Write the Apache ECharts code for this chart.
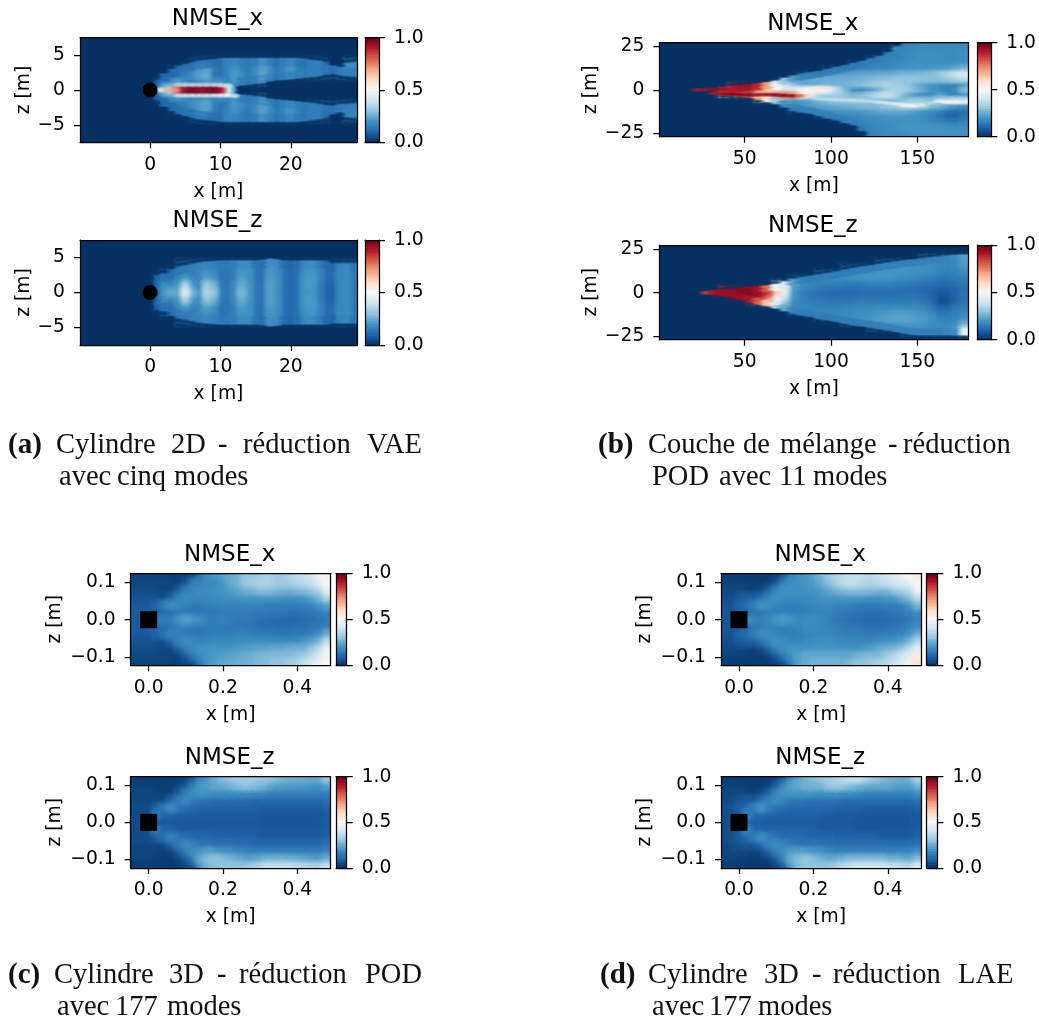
<!DOCTYPE html>
<html><head><meta charset="utf-8">
<style>html,body{margin:0;padding:0;background:#fff}#c{width:1039px;height:1018px}</style>
<script src="https://cdn.jsdelivr.net/npm/echarts@6/dist/echarts.min.js"></script>
</head><body><div id="c"></div>
<script>
// ---- shared scale ----
const cmapStops = ['#053061','#2166ac','#4393c3','#92c5de','#d1e5f0','#f7f7f7','#fddbc7','#f4a582','#d6604d','#b2182b','#67001f'];
const cbLevels = [0,.02,.04,.06,.08,.1,.12,.14,.16,.18,.2,.22,.24,.26,.28,.3,.32,.34,.36,.38,.4,.42,.44,.46,.48,.5,.52,.54,.56,.58,.6,.62,.64,.66,.68,.7,.72,.74,.76,.78,.8,.82,.84,.86,.88,.9,.92,.94,.96,.98,1];
const cbTicks = [0,0.5,1];

// ---- panel (a) : values in percent of NMSE ----
const aX = [0,1,2,3,4,5,6,7,8,9,10,11,12,13,14,15,16,17,18,19,20,21,22,23,24,25,26,27,28,29];
const aZ = [4,3,2,1,0,-1,-2,-3,-4];
const aTop = [
[0,0,0,0,0,0,10,14,13,12,12,16,17,15,14,15,19,16,13,15,17,14,13,15,15,12,0,0,18,18],
[0,0,0,8,12,13,15,19,22,14,12,16,19,15,13,17,22,17,13,16,20,15,13,16,16,14,13,14,17,17],
[0,0,9,13,12,15,17,22,24,14,12,15,21,17,14,17,23,18,13,16,20,15,14,16,15,13,12,14,15,15],
[0,8,15,18,22,18,13,15,17,18,20,15,19,15,12,16,21,0,0,0,0,0,0,0,0,0,0,0,0,0],
[0,10,30,35,80,93,97,93,95,98,90,45,15,0,0,0,0,0,0,0,0,0,0,0,0,0,0,0,0,0],
[0,8,14,18,20,17,14,14,16,16,18,17,18,15,12,15,20,0,0,0,0,0,0,0,0,0,0,0,0,0],
[0,0,9,12,12,15,18,21,23,15,12,14,20,17,14,17,22,17,13,16,19,16,14,15,15,13,12,14,15,15],
[0,0,0,8,12,14,15,20,22,14,12,15,19,15,13,17,22,17,13,16,20,15,13,16,16,14,13,14,17,17],
[0,0,0,0,0,0,10,14,13,12,12,16,17,15,14,15,19,16,13,15,17,14,13,15,15,12,0,0,16,16]];
const aTopStreak = [[1.5,0,.55],[2.5,0,.68],[3.5,0,.72],
[4,.75,.36],[5,.75,.38],[6,.75,.38],[7,.75,.38],[8,.75,.38],[9,.75,.38],[10,.7,.4],[11,.6,.4],
[4,-.8,.38],[5,-.8,.42],[6,-.8,.42],[7,-.8,.42],[8,-.8,.42],[9,-.8,.44],[10,-.8,.5],[11,-.75,.5],[12,-.85,.42]];
// envelope of the data region: [x, z on the edge, value just inside]
// "rise": empty above the edge; "fall": empty below the edge
const aTopRise = [[2,2.4,.1],[3,3,.1],[4,3.5,.12],[5,3.8,.13],[6,4,.12],[7,4.2,.14],[8,4.3,.13],[9,4.4,.12],[10,4.6,.12],[11,4.6,.16],[12,4.6,.17],[13,4.6,.15],[14,4.6,.14],[15,4.6,.15],[16,4.6,.19],[17,4.6,.16],[18,4.6,.13],[19,4.6,.15],[20,4.6,.17],[21,4.6,.14],[22,4.5,.13],[23,4.3,.15],[24,4.2,.15],[25,4,.12],[26,3.5,.13],[27,3.2,.14],[28,3.9,.18],[29,4,.18],
[13,-.6,.15],[14,-.75,.14],[15,-.9,.15],[16,-1,.19],[17,-1.15,.16],[18,-1.3,.13],[19,-1.4,.15],[20,-1.5,.16],[21,-1.65,.15],[22,-1.75,.14],[23,-1.85,.15],[24,-2,.15],[25,-2.2,.13],[26,-2.3,.12],[27,-2.1,.14],[28,-2,.15],[29,-1.9,.15]];
const aTopFall = [[13,.6,.15],[14,.75,.14],[15,.9,.15],[16,1,.19],[17,1.15,.16],[18,1.3,.13],[19,1.4,.15],[20,1.5,.16],[21,1.65,.15],[22,1.75,.14],[23,1.85,.15],[24,2,.15],[25,2.2,.13],[26,2.3,.12],[27,2.1,.14],[28,2,.15],[29,1.9,.15],
[2,-2.4,.1],[3,-3,.1],[4,-3.5,.12],[5,-3.8,.13],[6,-4,.12],[7,-4.2,.14],[8,-4.3,.13],[9,-4.4,.12],[10,-4.6,.12],[11,-4.6,.16],[12,-4.6,.17],[13,-4.6,.15],[14,-4.6,.14],[15,-4.6,.15],[16,-4.6,.19],[17,-4.6,.16],[18,-4.6,.13],[19,-4.6,.15],[20,-4.6,.17],[21,-4.6,.14],[22,-4.5,.13],[23,-4.3,.15],[24,-4.2,.15],[25,-4,.12],[26,-3.5,.13],[27,-3.2,.14],[28,-3.9,.16],[29,-4,.16]];
const aBottom = [
[0,0,0,0,13,14,15,16,17,16,14,14,15,18,18,13,12,19,18,12,10,12,17,18,15,11,10,16,17,13],
[0,0,9,12,16,15,14,17,19,17,13,13,15,20,19,13,12,20,18,12,10,12,18,20,16,11,11,17,18,13],
[0,9,13,10,17,20,16,17,22,19,13,12,15,21,19,13,12,21,19,12,10,12,19,21,16,11,10,17,18,13],
[0,9,18,16,20,33,20,17,30,26,14,13,17,24,20,13,13,22,19,12,10,12,20,21,15,10,9,17,18,13],
[0,10,20,24,24,42,26,18,34,30,15,13,18,27,21,13,13,22,18,12,10,12,19,20,15,10,8,17,18,13],
[0,9,18,16,20,32,20,17,29,25,14,13,17,24,20,13,13,22,19,12,10,12,20,21,15,10,9,17,18,13],
[0,9,13,10,17,20,16,17,22,19,13,12,15,21,19,13,12,21,19,12,10,12,19,21,16,11,10,17,18,13],
[0,0,9,12,16,15,14,17,19,17,13,13,15,20,19,13,12,20,18,12,10,12,18,20,16,11,11,17,18,13],
[0,0,0,0,13,14,15,16,17,16,14,14,15,18,18,13,12,19,18,12,10,12,17,18,15,11,10,16,17,13]];
const aBottomRise = [[2,2.7,.12],[3,3.3,.12],[4,3.7,.13],[5,3.9,.14],[6,4.1,.15],[7,4.3,.16],[8,4.4,.17],[9,4.5,.16],[10,4.6,.14],[11,4.6,.14],[12,4.6,.15],[13,4.6,.18],[14,4.6,.18],[15,4.6,.13],[16,4.7,.12],[17,4.9,.19],[18,4.8,.18],[19,4.6,.12],[20,4.6,.1],[21,4.6,.12],[22,4.6,.17],[23,4.6,.18],[24,4.6,.15],[25,4.6,.11],[26,4.2,.1],[27,4.2,.16],[28,4.2,.17],[29,4.2,.13]];
const aBottomFall = [[2,-2.7,.12],[3,-3.3,.12],[4,-3.7,.13],[5,-3.9,.14],[6,-4.1,.15],[7,-4.3,.16],[8,-4.4,.17],[9,-4.5,.16],[10,-4.6,.14],[11,-4.6,.14],[12,-4.6,.15],[13,-4.6,.18],[14,-4.6,.18],[15,-4.6,.13],[16,-4.7,.12],[17,-4.9,.19],[18,-4.8,.18],[19,-4.6,.12],[20,-4.6,.1],[21,-4.6,.12],[22,-4.6,.17],[23,-4.6,.18],[24,-4.6,.15],[25,-4.6,.11],[26,-4.4,.1],[27,-4.4,.16],[28,-4.4,.17],[29,-4.4,.13]];

// ---- panel (b) ----
const bX = [22.5,27.5,32.5,37.5,42.5,47.5,52.5,57.5,62.5,67.5,72.5,77.5,82.5,87.5,92.5,97.5,102.5,107.5,112.5,117.5,122.5,127.5,132.5,137.5,142.5,147.5,152.5,157.5,162.5,167.5,172.5,177.5];
const bZ = [27,24,21,18,15,12,9,6,3,0,-3,-6,-9,-12,-15,-18,-21,-24,-27];
const bTop = [
[0,0,0,0,0,0,0,0,0,0,0,0,0,0,0,0,0,0,0,0,0,0,0,0,16,16,17,17,17,17,17,17],
[0,0,0,0,0,0,0,0,0,0,0,0,0,0,0,0,0,0,0,0,0,0,0,15,16,17,18,18,18,18,18,18],
[0,0,0,0,0,0,0,0,0,0,0,0,0,0,0,0,0,0,0,0,0,0,13,15,17,18,19,19,18,18,18,19],
[0,0,0,0,0,0,0,0,0,0,0,0,0,0,0,0,0,0,0,0,13,14,15,16,17,18,19,19,19,18,18,19],
[0,0,0,0,0,0,0,0,0,0,0,0,0,0,0,0,0,0,13,14,15,16,16,17,18,19,19,19,19,18,19,20],
[0,0,0,0,0,0,0,0,0,0,0,0,0,0,0,12,13,14,15,15,16,17,17,18,19,20,20,20,21,22,24,26],
[0,0,0,0,0,0,0,0,0,0,0,0,13,15,17,19,20,21,22,23,23,24,24,25,26,26,27,28,30,34,38,42],
[0,0,0,0,0,0,0,0,0,0,22,20,22,24,25,25,25,25,25,26,27,28,29,30,30,30,29,29,28,30,32,35],
[0,0,0,0,85,92,92,88,72,50,38,28,24,23,24,26,26,26,27,28,30,32,34,32,30,26,22,20,18,16,17,19],
[0,0,0,88,88,85,80,72,60,50,42,42,45,50,52,46,36,26,15,13,16,22,30,34,32,28,24,20,16,15,18,28],
[0,0,0,60,65,68,70,70,72,75,75,72,55,42,34,30,32,30,26,28,32,36,38,34,24,18,15,16,22,18,16,18],
[0,0,0,0,0,0,0,60,55,38,26,20,20,22,26,28,30,30,30,30,28,27,26,26,28,30,30,28,32,36,38,38],
[0,0,0,0,0,0,0,0,0,0,18,20,20,21,22,23,24,25,26,27,28,28,30,32,36,36,34,28,26,22,20,19],
[0,0,0,0,0,0,0,0,0,0,0,14,15,17,18,18,19,20,20,21,22,23,24,24,24,22,20,18,15,12,10,12],
[0,0,0,0,0,0,0,0,0,0,0,0,0,0,14,15,16,17,17,18,19,19,20,20,20,20,18,16,12,9,9,13],
[0,0,0,0,0,0,0,0,0,0,0,0,0,0,0,0,0,14,15,16,17,18,19,19,19,19,19,17,15,13,12,15],
[0,0,0,0,0,0,0,0,0,0,0,0,0,0,0,0,0,0,0,14,16,18,18,19,20,20,20,20,19,18,17,18],
[0,0,0,0,0,0,0,0,0,0,0,0,0,0,0,0,0,0,0,0,15,17,18,18,19,20,20,20,20,20,20,20],
[0,0,0,0,0,0,0,0,0,0,0,0,0,0,0,0,0,0,0,0,14,17,18,18,18,18,18,18,18,18,18,18]];
const bTopStreak = [[22.5,0,.9],[27.5,.2,.92],[32.5,.2,.93],[37.5,.3,.93],[32.5,-2,.9],[37.5,-2.3,.95],[42.5,-2.6,.97],[47.5,-2.8,.97],[52.5,-2.8,.97],[57.5,-2.8,.95],[62.5,-2.8,.95],[67.5,-2.9,.97],[72.5,-3.2,.98],[77.5,-3.4,.98],[82.5,-3.4,.8],[87.5,-3.5,.6],
[92.5,1,.55],[97.5,1,.58],[92.5,-5,.36],[97.5,-5.3,.37],[102.5,-5.6,.38],[107.5,-5.8,.38],[112.5,-6,.38],[117.5,-6.2,.38],[122.5,-6.5,.38],[127.5,-7,.4],[132.5,-7.5,.42],[137.5,-8,.45],[142.5,-8.8,.5],[147.5,-9,.5],[152.5,-8.5,.44],[157.5,-7.5,.36],[162.5,-6.5,.45],[167.5,-7,.5],[172.5,-7,.5],[177.5,-7,.47]];
const bTopRise = [[42.5,2.2,.9],[47.5,2.7,.94],[52.5,3.2,.94],[57.5,3.8,.88],[62.5,4.5,.7],[67.5,5.6,.45],[72.5,7,.3],[77.5,8.5,.22],[82.5,9.4,.15],[87.5,10.2,.14],[92.5,11,.14],[97.5,12,.14],[102.5,13.2,.14],[107.5,14.4,.14],[112.5,15.5,.14],[117.5,16.7,.14],[122.5,18,.15],[127.5,19.5,.15],[132.5,21.5,.16],[137.5,25,.17]];
const bTopFall = [[37.5,-2.7,.88],[42.5,-3.2,.9],[47.5,-3.8,.9],[52.5,-4.6,.86],[57.5,-5.6,.7],[62.5,-7,.55],[67.5,-8.4,.3],[72.5,-10,.18],[77.5,-12,.15],[82.5,-13,.15],[87.5,-14,.15],[92.5,-15,.15],[97.5,-16.5,.15],[102.5,-17.7,.15],[107.5,-19,.15],[112.5,-20.5,.15],[117.5,-24,.15]];
const bBottom = [
[0,0,0,0,0,0,0,0,0,0,0,0,0,0,0,0,0,0,0,0,0,0,0,0,0,0,0,0,0,0,0,0],
[0,0,0,0,0,0,0,0,0,0,0,0,0,0,0,0,0,0,0,0,0,0,0,0,0,0,0,0,0,0,0,0],
[0,0,0,0,0,0,0,0,0,0,0,0,0,0,0,0,0,0,0,0,0,0,0,0,0,0,14,15,15,16,18,22],
[0,0,0,0,0,0,0,0,0,0,0,0,0,0,0,0,0,0,0,0,0,14,15,16,17,18,18,18,17,16,16,22],
[0,0,0,0,0,0,0,0,0,0,0,0,0,0,0,0,0,13,14,15,16,17,18,19,19,19,19,18,17,16,17,20],
[0,0,0,0,0,0,0,0,0,0,0,0,0,0,13,14,15,16,17,18,19,20,20,20,20,19,19,18,16,15,16,18],
[0,0,0,0,0,0,0,0,0,0,0,13,15,16,17,17,18,18,19,20,20,20,20,19,18,17,16,15,14,14,15,15],
[0,0,0,0,0,0,0,0,0,35,42,22,18,17,16,16,16,15,15,15,16,16,16,15,15,14,13,12,11,11,12,14],
[0,0,0,85,93,95,95,92,80,55,42,22,17,15,14,13,13,12,12,12,13,13,13,13,12,12,11,10,9,9,10,12],
[0,0,92,96,97,97,96,94,86,62,45,20,15,13,12,11,10,10,10,11,11,11,11,11,11,11,11,9,8,8,10,12],
[0,0,0,0,93,95,95,90,74,52,38,20,16,14,13,12,12,12,12,12,13,13,13,13,13,13,12,10,6,6,9,13],
[0,0,0,0,0,0,85,70,60,42,28,18,16,15,15,14,14,14,14,15,15,15,15,15,15,15,14,11,6,6,10,13],
[0,0,0,0,0,0,0,0,0,0,17,17,17,16,16,16,16,16,17,17,17,18,18,18,18,18,17,14,10,10,13,15],
[0,0,0,0,0,0,0,0,0,0,0,14,15,16,17,17,17,18,18,19,19,20,21,22,22,21,20,17,13,13,15,17],
[0,0,0,0,0,0,0,0,0,0,0,0,0,0,14,15,16,17,18,19,20,21,22,23,23,22,21,19,16,15,16,19],
[0,0,0,0,0,0,0,0,0,0,0,0,0,0,0,0,0,14,15,16,17,18,19,20,20,20,20,19,18,17,18,25],
[0,0,0,0,0,0,0,0,0,0,0,0,0,0,0,0,0,0,0,0,14,15,16,17,18,18,18,18,17,18,20,38],
[0,0,0,0,0,0,0,0,0,0,0,0,0,0,0,0,0,0,0,0,0,0,0,0,14,15,15,15,15,16,18,48],
[0,0,0,0,0,0,0,0,0,0,0,0,0,0,0,0,0,0,0,0,0,0,0,0,0,0,0,0,0,0,0,0]];
const bBottomStreak = [[27.5,0,.85],[32.5,0,.92]];
const bBottomRise = [[37.5,1.5,.95],[42.5,2.2,.95],[47.5,2.8,.95],[52.5,3.3,.95],[57.5,3.8,.92],[62.5,4.3,.78],[67.5,5,.5],[72.5,6.5,.42],[77.5,8,.22],[82.5,8.9,.16],[87.5,9.7,.14],[92.5,10.5,.14],[97.5,11.3,.14],[102.5,12.2,.14],[107.5,13.2,.14],[112.5,14.2,.14],[117.5,15,.14],[122.5,15.7,.14],[127.5,16.5,.14],[132.5,17.3,.15],[137.5,18,.15],[142.5,18.7,.15],[147.5,19.2,.15],[152.5,19.8,.15],[157.5,20.4,.15],[162.5,21,.15],[167.5,21.5,.16],[172.5,21.8,.18],[177.5,22,.22]];
const bBottomFall = [[37.5,-2,.93],[42.5,-3,.93],[47.5,-4.3,.93],[52.5,-5.6,.9],[57.5,-6.8,.8],[62.5,-8,.65],[67.5,-9.3,.42],[72.5,-10.8,.25],[77.5,-12.2,.16],[82.5,-13.2,.15],[87.5,-14.2,.14],[92.5,-15.2,.14],[97.5,-16,.14],[102.5,-17,.14],[107.5,-17.8,.14],[112.5,-18.8,.14],[117.5,-19.5,.14],[122.5,-20.2,.14],[127.5,-21,.15],[132.5,-21.8,.15],[137.5,-22.8,.15],[142.5,-23.6,.15],[147.5,-24.3,.15],[152.5,-24.5,.15],[157.5,-24.5,.15],[162.5,-24.5,.15],[167.5,-24.5,.16],[172.5,-24.5,.18],[177.5,-24.5,.46]];

// ---- panels (c) and (d) ----
const cdX = [-.04,-.02,0,.02,.04,.06,.08,.1,.12,.14,.16,.18,.2,.22,.24,.26,.28,.3,.32,.34,.36,.38,.4,.42,.44,.46,.48];
const cdZ = [.12,.1,.08,.06,.04,.02,0,-.02,-.04,-.06,-.08,-.1,-.12];
const cTop = [
[3,3,3,3,3,3,3,3,4,12,18,20,22,24,26,30,30,32,34,32,32,34,36,38,40,46,52],
[4,4,4,4,4,3,3,6,14,16,18,18,20,24,26,30,32,34,34,32,32,32,34,36,38,42,50],
[5,5,5,4,4,4,7,14,17,18,18,19,20,21,23,25,26,28,28,27,26,26,27,28,30,34,44],
[6,6,6,5,5,8,15,18,17,17,17,18,19,19,19,20,20,20,20,20,19,19,19,20,22,26,33],
[7,7,7,9,14,18,17,15,14,14,15,15,16,16,16,16,16,16,15,15,15,15,15,15,16,19,22],
[8,8,8,8,10,12,13,13,13,13,14,14,15,15,15,15,14,14,13,13,13,12,12,13,13,15,16],
[8,8,8,14,15,14,19,22,20,18,15,15,16,15,14,14,13,12,11,11,10,10,10,11,11,13,14],
[8,8,8,9,11,13,14,15,14,14,15,15,14,14,14,13,13,12,12,11,11,11,12,12,13,14,16],
[7,7,7,9,12,16,16,14,14,14,15,15,15,15,15,15,14,14,14,13,13,13,14,14,15,18,24],
[6,6,6,5,5,8,15,18,17,16,16,17,17,17,18,18,18,18,18,18,18,17,18,20,22,26,36],
[5,5,5,4,4,4,7,13,17,19,20,20,20,20,21,22,22,23,23,24,24,25,26,26,30,36,46],
[4,4,4,4,4,3,3,6,12,17,20,21,22,23,24,25,26,27,28,28,28,28,30,32,36,42,48],
[3,3,3,3,3,3,3,3,4,12,20,22,24,24,25,26,26,28,28,30,30,32,34,38,42,46,50]];
const cBottom = [
[2,2,2,2,2,2,2,3,6,16,20,24,28,30,32,32,32,30,30,28,26,25,25,25,24,24,30],
[3,3,3,3,3,2,3,6,14,20,22,24,24,26,28,30,28,27,24,22,22,21,21,21,20,20,22],
[4,4,4,3,3,3,7,14,18,20,19,18,18,18,18,18,17,17,16,15,15,15,15,15,15,15,16],
[4,4,4,4,4,8,14,17,14,12,12,11,11,11,11,11,10,10,10,10,10,10,10,10,10,10,12],
[5,5,5,8,13,18,13,11,10,9,9,9,9,9,9,9,9,8,8,8,8,8,8,8,8,8,9],
[5,5,5,14,9,9,8,8,8,8,8,8,8,8,8,8,8,7,7,7,7,7,7,7,7,7,8],
[5,5,5,5,7,7,7,7,7,7,7,7,7,7,7,7,7,7,7,7,7,7,7,7,7,7,8],
[5,5,5,14,9,9,8,8,8,8,8,8,8,8,8,8,8,7,7,7,7,7,7,7,7,7,8],
[5,5,5,8,12,16,13,11,10,10,10,9,9,9,9,9,9,8,8,8,8,8,8,8,8,8,9],
[4,4,4,4,4,8,14,17,15,13,13,12,12,12,11,11,10,10,10,10,10,10,10,10,10,10,12],
[4,4,4,3,3,3,7,13,18,20,22,20,19,18,17,16,15,15,15,15,15,15,15,15,15,15,16],
[3,3,3,3,3,2,3,6,14,24,28,30,28,26,24,22,23,24,26,26,26,25,24,23,22,22,25],
[2,2,2,2,2,2,2,3,6,18,26,28,30,30,30,30,32,34,38,38,38,38,36,35,34,34,38]];
const dTop = [
[2,2,2,2,2,2,2,3,6,14,18,20,22,26,30,34,36,38,38,36,36,38,40,44,46,50,54],
[3,3,3,3,2,2,3,6,14,18,19,20,21,24,28,32,36,38,36,35,34,36,38,40,42,44,50],
[4,4,4,3,3,4,8,15,19,19,19,19,20,21,23,25,27,28,28,28,27,26,27,30,32,36,46],
[5,5,7,8,8,10,16,19,18,18,18,18,18,19,20,20,20,20,20,19,19,19,20,21,24,28,36],
[6,6,9,11,14,19,18,16,15,15,15,16,17,17,17,16,16,15,14,14,14,14,15,15,16,20,26],
[7,7,7,9,12,14,14,14,15,14,15,15,16,16,16,15,14,13,13,12,12,12,12,13,14,15,18],
[7,7,7,18,16,15,17,20,21,19,17,18,18,17,15,14,13,12,11,10,10,10,11,11,12,14,16],
[7,7,7,10,13,15,15,15,15,15,16,18,18,17,16,15,14,13,13,12,12,12,12,13,14,16,18],
[6,6,9,11,14,18,18,16,15,15,15,16,17,17,17,16,15,15,15,14,14,14,15,15,16,19,24],
[5,5,7,8,8,10,15,19,18,16,16,17,18,19,19,18,17,17,17,17,17,18,19,20,22,26,34],
[4,4,4,3,3,4,8,14,18,20,20,20,20,20,20,20,20,20,20,21,22,24,26,27,30,36,44],
[3,3,3,3,2,2,3,6,12,18,22,24,24,24,24,24,24,24,26,27,28,28,32,36,40,44,54],
[2,2,2,2,2,2,2,3,4,13,22,24,26,26,26,26,26,28,30,30,32,34,36,40,44,48,56]];
const dBottom = [
[2,2,2,2,2,2,2,3,6,16,22,26,28,30,32,34,36,38,38,34,30,28,26,26,24,26,34],
[3,3,3,3,2,2,3,7,15,22,24,26,26,26,30,32,30,28,26,24,24,24,24,22,22,22,26],
[4,4,4,3,3,4,8,15,20,20,20,20,19,19,19,19,18,18,17,16,16,16,16,16,16,16,18],
[4,5,6,7,7,10,15,18,15,13,13,12,12,12,12,12,11,11,11,11,11,11,11,11,11,11,12],
[5,6,8,10,15,19,14,12,11,10,10,10,10,10,10,9,9,9,9,8,8,8,8,8,8,8,9],
[5,6,6,16,10,10,9,9,9,9,9,9,9,8,8,8,8,8,7,7,7,7,7,7,7,7,8],
[5,6,6,7,8,8,8,8,8,8,8,8,8,8,8,8,8,7,7,7,7,7,7,7,7,7,8],
[5,6,6,16,10,10,9,9,9,9,9,9,9,8,8,8,8,8,7,7,7,7,7,7,7,7,8],
[5,6,8,10,14,18,14,12,11,11,11,10,10,10,10,9,9,9,9,9,9,8,8,8,8,8,9],
[4,5,6,7,7,10,15,18,16,14,13,13,13,12,12,11,11,11,11,11,11,11,11,11,11,11,12],
[4,4,4,3,3,4,8,14,18,21,22,21,20,19,17,16,16,16,16,16,16,16,16,16,16,16,18],
[3,3,3,3,2,2,3,7,15,25,28,30,28,25,24,24,26,28,28,28,28,28,26,26,24,24,28],
[2,2,2,2,2,2,2,3,6,18,28,30,30,30,30,32,36,38,40,40,40,40,38,38,36,36,42]];

// ---- tick values ----
const aXTicks=[0,10,20], aZTicks=[-5,0,5];
const bXTicks=[50,100,150], bZTicks=[-25,0,25];
const cdXTicks=[0,.2,.4], cdZTicks=[-.1,0,.1];

// ---- captions: [text, x, bold] ----
const captions = [
 {y:452,words:[['(a)',8,1],['Cylindre',56],['2D',171],['-',218],['réduction',243],['VAE',367]]},
 {y:484,words:[['avec',59],['cinq',117],['modes',174]]},
 {y:452,words:[['(b)',598,1],['Couche',648],['de',743],['mélange',780],['-',888],['réduction',903]]},
 {y:484,words:[['POD',652],['avec',719],['11',779],['modes',813]]},
 {y:982,words:[['(c)',8,1],['Cylindre',54],['3D',169],['-',217],['réduction',239],['POD',365]]},
 {y:1014,words:[['avec',57],['177',115],['modes',167]]},
 {y:982,words:[['(d)',600,1],['Cylindre',648],['3D',764],['-',812],['réduction',833],['LAE',958]]},
 {y:1014,words:[['avec',652],['177',709],['modes',758]]}
];

const TICK=18.7, TITLE=23, FF='DejaVu Sans';
const panels = [
 {t:'NMSE_x',r:[80,37.7,277,104.6],xr:[-9.96,29.4],zr:[-7.5,7.5],xs:aX,zs:aZ,rows:aTop,xT:aXTicks,zT:aZTicks,d:0,gap:46,mk:'circle',ms:15,cb:365,cbw:14,streak:aTopStreak,rise:aTopRise,fall:aTopFall,sdx:1,sdz:.45},
 {t:'NMSE_z',r:[80,240,277,105],xr:[-9.96,29.4],zr:[-7.5,7.5],xs:aX,zs:aZ,rows:aBottom,xT:aXTicks,zT:aZTicks,d:0,gap:46,mk:'circle',ms:15,cb:365,cbw:14,rise:aBottomRise,fall:aBottomFall,sdx:1,sdz:.45},
 {t:'NMSE_x',r:[659.3,42.7,309,94],xr:[.55,179.5],zr:[-26.8,27],xs:bX,zs:bZ,rows:bTop,xT:bXTicks,zT:bZTicks,d:0,gap:57,cb:977.3,cbw:15.4,streak:bTopStreak,rise:bTopRise,fall:bTopFall,sdx:5,sdz:1.5},
 {t:'NMSE_z',r:[659.3,245,309,94.7],xr:[.55,179.5],zr:[-27,27.4],xs:bX,zs:bZ,rows:bBottom,xT:bXTicks,zT:bZTicks,d:0,gap:57,cb:977.3,cbw:15.4,streak:bBottomStreak,rise:bBottomRise,fall:bBottomFall,sdx:5,sdz:1.5},
 {t:'NMSE_x',r:[130.7,573.3,200,92],xr:[-.0484,.49],zr:[-.123,.125],xs:cdX,zs:cdZ,rows:cTop,xT:cdXTicks,zT:cdZTicks,d:1,gap:66,mk:'rect',ms:17,cb:336,cbw:10.7},
 {t:'NMSE_z',r:[130.7,776.7,200,91.3],xr:[-.0484,.49],zr:[-.123,.123],xs:cdX,zs:cdZ,rows:cBottom,xT:cdXTicks,zT:cdZTicks,d:1,gap:66,mk:'rect',ms:17,cb:336,cbw:10.7},
 {t:'NMSE_x',r:[721,573.3,200.3,92],xr:[-.0484,.49],zr:[-.123,.125],xs:cdX,zs:cdZ,rows:dTop,xT:cdXTicks,zT:cdZTicks,d:1,gap:66,mk:'rect',ms:17,cb:926.7,cbw:10.7},
 {t:'NMSE_z',r:[721,776.7,200.3,91.3],xr:[-.0484,.49],zr:[-.123,.123],xs:cdX,zs:cdZ,rows:dBottom,xT:cdXTicks,zT:cdZTicks,d:1,gap:66,mk:'rect',ms:17,cb:926.7,cbw:10.7}
];

const colorOf = v => echarts.color.lerp(v, cmapStops);
const withAlpha = (c,a) => echarts.color.modifyAlpha(c,a);
const grid=[],xAxis=[],yAxis=[],series=[],title=[];
const lineStyle={color:'#000',width:1.25};
const fmt=(d)=>v=>(d?(+v).toFixed(1):String(+v)).replace('-','\u2212');
const XM=13,YM=15;

function frame(gi){
  xAxis.push({gridIndex:gi,type:'value',position:'top',min:0,max:1,z:5,axisLine:{show:true,onZero:false,lineStyle},axisTick:{show:false},axisLabel:{show:false},splitLine:{show:false}});
}
// an elliptical soft spot: the gradient is drawn in a square and stretched to the cell's aspect
function softShape(api,x,z,dx,dz,R,c){
  const ctr=api.coord([x,z]),a=api.coord([x-R*dx,z+R*dz]),b=api.coord([x+R*dx,z-R*dz]);
  const rx=(b[0]-a[0])/2,ry=(b[1]-a[1])/2;
  return {type:'rect',x:ctr[0],y:ctr[1],scaleX:rx/ry,scaleY:1,shape:{x:-ry,y:-ry,width:2*ry,height:2*ry},
    style:{fill:new echarts.graphic.RadialGradient(.5,.5,.5,[
      {offset:0,color:withAlpha(c,1)},{offset:.5,color:withAlpha(c,.6)},{offset:1,color:withAlpha(c,0)}])}};
}
// layer 0 = plain cell, layer 1 = soft cell giving the source image's smoothed look, layer 2 = soft mask of an empty cell
function cellRender(dx,dz){
  return function(params,api){
    const x=api.value(0),z=api.value(1),v=api.value(2),layer=api.value(3),c=colorOf(v);
    if(layer===0){
      const a=api.coord([x-dx/2,z+dz/2]),b=api.coord([x+dx/2,z-dz/2]);
      const X=Math.round(a[0]),Y=Math.round(a[1]);
      return {type:'rect',shape:{x:X,y:Y,width:Math.round(b[0])-X,height:Math.round(b[1])-Y},style:{fill:c}};
    }
    return layer===1?softShape(api,x,z,dx,dz,1.2,c):softShape(api,x,z,dx,dz,.8,c);
  };
}
function spotRender(dx,dz){
  return (params,api)=>softShape(api,api.value(0),api.value(1),dx,dz,1,colorOf(api.value(2)));
}
// spots on both sides of a read envelope point: the value inside, the empty colour outside
function edgeSpots(list,dir,dz){
  const inside=[],outside=[];
  list.forEach(([x,z,v])=>{
    inside.push([x,z-dir*dz*.67,v],[x,z-dir*dz*2,v]);
    outside.push([x,z+dir*dz*.67,0],[x,z+dir*dz*2,0]);
  });
  return inside.concat(outside);
}
function cbCell(dz){
  return function(params,api){
    const v=api.value(1);
    const a=api.coord([0,v+dz/2]),b=api.coord([1,v-dz/2]);
    return {type:'rect',shape:{x:a[0],y:Math.round(a[1]),width:b[0]-a[0],height:Math.round(b[1])-Math.round(a[1])},style:{fill:colorOf(v)}};
  };
}
panels.forEach(p=>{
  const [l,t,w,h]=p.r;
  const gi=grid.length;
  grid.push({left:l,top:t,width:w,height:h,show:true,backgroundColor:cmapStops[0],borderWidth:0});
  title.push({text:p.t,left:l+w/2-1,top:t-30,padding:0,textAlign:'center',textStyle:{fontFamily:FF,fontSize:TITLE,fontWeight:'normal',color:'#000'}});
  const xi=xAxis.length;
  xAxis.push({gridIndex:gi,type:'value',min:p.xr[0],max:p.xr[1],z:5,name:'x [m]',nameLocation:'middle',nameGap:40,
    nameTextStyle:{fontFamily:FF,fontSize:TICK,color:'#000'},
    axisLine:{show:true,onZero:false,lineStyle},splitLine:{show:false},
    axisTick:{show:true,length:6,lineStyle,customValues:p.xT},
    axisLabel:{fontFamily:FF,fontSize:TICK,color:'#000',margin:XM,customValues:p.xT,formatter:fmt(p.d)}});
  const yi=yAxis.length;
  yAxis.push({gridIndex:gi,type:'value',min:p.zr[0],max:p.zr[1],z:5,name:'z [m]',nameLocation:'middle',nameGap:p.gap,
    nameTextStyle:{fontFamily:FF,fontSize:TICK,color:'#000'},
    axisLine:{show:true,onZero:false,lineStyle},splitLine:{show:false},
    axisTick:{show:true,length:6,lineStyle,customValues:p.zT},
    axisLabel:{fontFamily:FF,fontSize:TICK,color:'#000',margin:YM,customValues:p.zT,formatter:fmt(p.d)}});
  yAxis.push({gridIndex:gi,type:'value',position:'right',min:0,max:1,z:5,axisLine:{show:true,onZero:false,lineStyle},axisTick:{show:false},axisLabel:{show:false},splitLine:{show:false}});
  frame(gi);
  const plain=[],soft=[],mask=[];
  p.rows.forEach((row,j)=>row.forEach((v,i)=>{
    const x=p.xs[i],z=p.zs[j];
    if(v>0){plain.push([x,z,v/100,0]);soft.push([x,z,v/100,1]);}
    else mask.push([x,z,0,2]);
  }));
  soft.sort((u,v)=>u[2]-v[2]);
  series.push({type:'custom',coordinateSystem:'cartesian2d',clip:true,xAxisIndex:xi,yAxisIndex:yi,silent:true,data:plain.concat(soft,mask),encode:{x:0,y:1},
    renderItem:cellRender(p.xs[1]-p.xs[0],p.zs[0]-p.zs[1])});
  if(p.rise) series.push({type:'custom',coordinateSystem:'cartesian2d',clip:true,xAxisIndex:xi,yAxisIndex:yi,silent:true,encode:{x:0,y:1},
    data:edgeSpots(p.rise,1,p.sdz).concat(edgeSpots(p.fall,-1,p.sdz)),renderItem:spotRender(p.sdx,p.sdz)});
  if(p.streak) series.push({type:'custom',coordinateSystem:'cartesian2d',clip:true,xAxisIndex:xi,yAxisIndex:yi,silent:true,data:p.streak,encode:{x:0,y:1},renderItem:spotRender(p.sdx,p.sdz)});
  if(p.mk) series.push({type:'scatter',xAxisIndex:xi,yAxisIndex:yi,silent:true,symbol:p.mk,symbolSize:p.ms,z:4,itemStyle:{color:'#000',opacity:1},data:[[0,0]]});

  // colour bar
  const cg=grid.length;
  grid.push({left:p.cb,top:t,width:p.cbw,height:h});
  const cxi=xAxis.length;
  xAxis.push({gridIndex:cg,type:'value',min:0,max:1,z:5,axisLine:{show:true,onZero:false,lineStyle},axisTick:{show:false},axisLabel:{show:false},splitLine:{show:false}});
  frame(cg);
  const cyi=yAxis.length;
  yAxis.push({gridIndex:cg,type:'value',position:'right',min:0,max:1,z:5,axisLine:{show:true,onZero:false,lineStyle},splitLine:{show:false},
    axisTick:{show:true,length:6,lineStyle,customValues:cbTicks},
    axisLabel:{fontFamily:FF,fontSize:TICK,color:'#000',margin:YM,customValues:cbTicks,formatter:v=>(+v).toFixed(1)}});
  yAxis.push({gridIndex:cg,type:'value',position:'left',min:0,max:1,z:5,axisLine:{show:true,onZero:false,lineStyle},axisTick:{show:false},axisLabel:{show:false},splitLine:{show:false}});
  series.push({type:'custom',coordinateSystem:'cartesian2d',clip:true,xAxisIndex:cxi,yAxisIndex:cyi,silent:true,encode:{y:1},
    data:cbLevels.map(v=>[.5,v]),renderItem:cbCell(.02)});
});
const graphic=[];
captions.forEach(c=>c.words.forEach(w=>graphic.push({type:'text',x:w[1],y:c.y-21,silent:true,style:{text:w[0],fill:'#111',fontFamily:'Liberation Serif',fontSize:w[2]?29:28.5,fontWeight:w[2]?'bold':'normal'}})));
const chart=echarts.init(document.getElementById('c'),null,{renderer:'canvas'});
chart.setOption({animation:false,backgroundColor:'#fff',title,grid,xAxis,yAxis,series,graphic});
</script></body></html>
